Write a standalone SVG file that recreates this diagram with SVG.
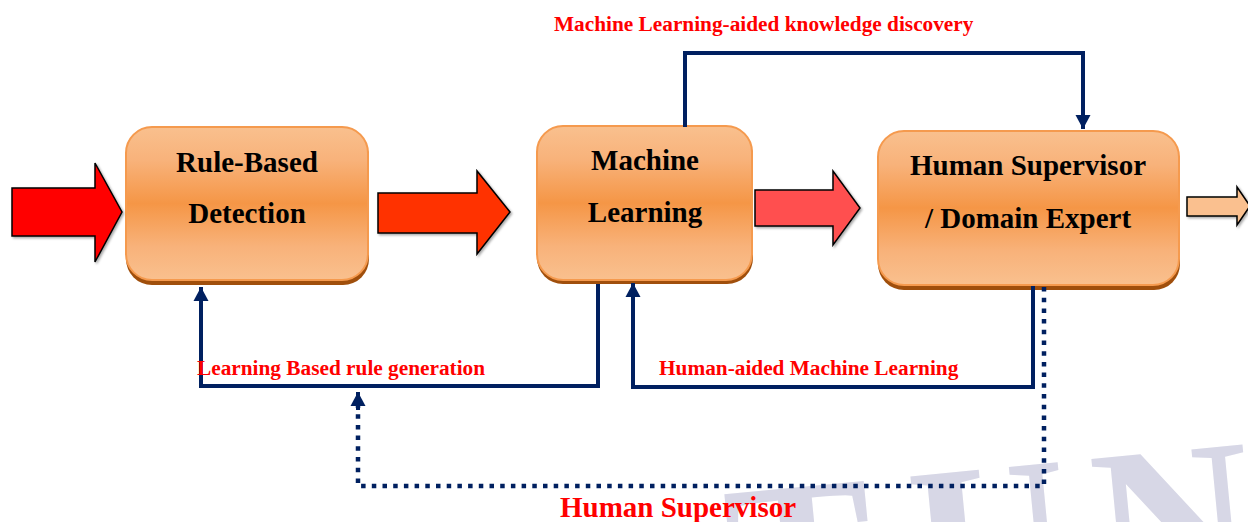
<svg xmlns="http://www.w3.org/2000/svg" width="1248" height="522" viewBox="0 0 1248 522">
  <defs>
    <linearGradient id="boxFill" x1="0" y1="0" x2="0" y2="1">
      <stop offset="0" stop-color="#f9c08e"/>
      <stop offset="0.22" stop-color="#f8b27a"/>
      <stop offset="0.5" stop-color="#f59646"/>
      <stop offset="0.78" stop-color="#f8b27a"/>
      <stop offset="1" stop-color="#f9c08e"/>
    </linearGradient>
    <marker id="head" markerUnits="userSpaceOnUse" markerWidth="16" markerHeight="16" refX="14" refY="8" orient="auto">
      <path d="M0,0.5 L14,8 L0,15.5 Z" fill="#002060"/>
    </marker>
    <filter id="soft" x="-10%" y="-10%" width="130%" height="130%">
      <feDropShadow dx="1.5" dy="1.5" stdDeviation="1" flood-color="#000" flood-opacity="0.35"/>
    </filter>
  </defs>
  <style>
    .box { fill: url(#boxFill); stroke: #f59a4e; stroke-width: 2; }
    .boxShadow { fill: #a04f0c; }
    .label { font-family: "Liberation Serif", "Times New Roman", serif; font-weight: bold; font-size: 29px; fill: #000; text-anchor: middle; }
    .tag { font-family: "Liberation Serif", "Times New Roman", serif; font-weight: bold; font-size: 21.3px; fill: #ff0000; }
    .big { font-family: "Liberation Serif", "Times New Roman", serif; font-weight: bold; font-size: 29px; fill: #ff0000; }
    .block { stroke: #000; stroke-width: 1.5; stroke-linejoin: miter; filter: url(#soft); }
    .link { fill: none; stroke: #002060; stroke-width: 4; }
    .dotted { fill: none; stroke: #002060; stroke-width: 4.5; stroke-dasharray: 4.5 6.2; }
    .mark { font-family: "Liberation Serif", "Times New Roman", serif; font-weight: bold; font-size: 220px; fill: #d7d7e6; }
  </style>

  <!-- faint background lettering, mostly below the bottom edge -->
  <g transform="translate(1040,470) rotate(-5.5)">
    <text class="mark" y="138"><tspan x="-320">T</tspan><tspan x="-135">U</tspan><tspan x="48">N</tspan></text>
  </g>

  <!-- block arrows carrying the main flow -->
  <g id="flow-arrows">
    <polygon class="block" fill="#ff0000" points="12,188 95,188 95,163 122,212 95,262 95,236 12,236"/>
    <polygon class="block" fill="#ff3300" points="378,193 477,193 477,171 510,212 477,254 477,233 378,233"/>
    <polygon class="block" fill="#ff5050" points="755,190 833,190 833,171 860,208 833,245 833,226 755,226"/>
    <polygon class="block" fill="#fac08f" points="1187,197 1237,197 1237,187 1250,206 1237,225 1237,216 1187,216"/>
  </g>

  <g id="node-rule-based">
    <rect class="boxShadow" x="126" y="131" width="243" height="154" rx="26"/>
    <rect class="box" x="126" y="127" width="242" height="153" rx="26"/>
    <text class="label" x="247" y="172">Rule-Based</text>
    <text class="label" x="247" y="223">Detection</text>
  </g>

  <g id="node-machine-learning">
    <rect class="boxShadow" x="537" y="130" width="216" height="154" rx="26"/>
    <rect class="box" x="537" y="126" width="215" height="154" rx="26"/>
    <text class="label" x="645" y="170">Machine</text>
    <text class="label" x="645" y="222">Learning</text>
  </g>

  <g id="node-human-supervisor">
    <rect class="boxShadow" x="878" y="136" width="302" height="154" rx="26"/>
    <rect class="box" x="878" y="131" width="301" height="154" rx="26"/>
    <text class="label" x="1028" y="175">Human Supervisor</text>
    <text class="label" x="1028" y="228">/ Domain Expert</text>
  </g>

  <g id="connectors">
    <path class="link" d="M685,127 V53 H1083 V129" marker-end="url(#head)"/>
    <path class="link" d="M598,284 V386 H201 V287" marker-end="url(#head)"/>
    <path class="link" d="M1033,286 V387 H633 V283" marker-end="url(#head)"/>
    <path class="dotted" d="M1044,287 V486 H358 V406"/>
    <path class="link" d="M358,410 V392" marker-end="url(#head)"/>
  </g>

  <g id="connector-labels">
    <text class="tag" x="554" y="31">Machine Learning-aided knowledge discovery</text>
    <text class="tag" x="197" y="375">Learning Based rule generation</text>
    <text class="tag" x="659" y="375">Human-aided Machine Learning</text>
    <text class="big" x="560" y="517">Human Supervisor</text>
  </g>
</svg>
